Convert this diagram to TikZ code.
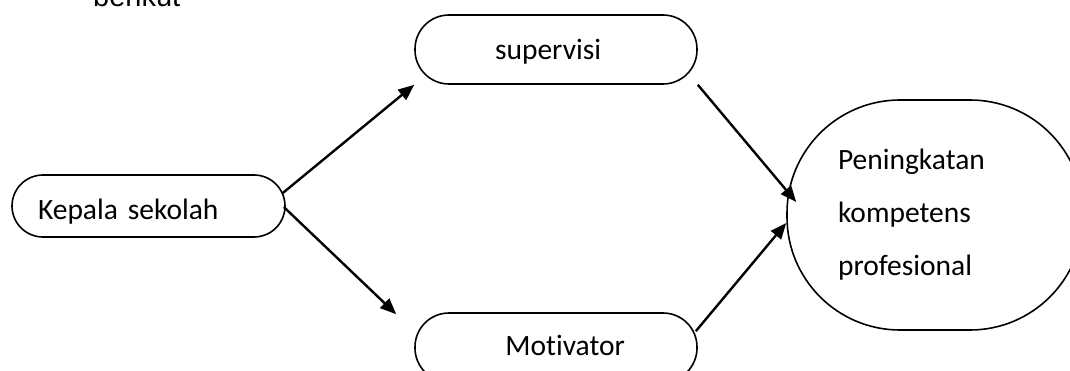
\documentclass[tikz,border=0pt]{standalone}
\usepackage{fontspec}
\setmainfont{Carlito}[Ligatures=NoCommon]
\newfontfamily\arialf{Liberation Sans}
\usetikzlibrary{arrows.meta}
\begin{document}
\begin{tikzpicture}[x=1pt,y=-1pt,
  pill/.style={draw,line width=1.6pt,rectangle,font=\fontsize{29.5}{34}\selectfont},
  oval/.style={draw,line width=1.6pt,rectangle,rounded corners=113pt,inner sep=0pt,font=\fontsize{29.5}{53}\selectfont},
  conn/.style={line width=2.4pt,-{Triangle[length=16pt,width=13pt]}}]
\useasboundingbox (0,0) rectangle (1070,371);
\node[anchor=base west,inner sep=0pt,font=\arialf\fontsize{29}{34}\selectfont] (ber) at (93,7) {berikut};
\node[pill,rounded corners=31pt,minimum height=62pt,text width=221pt,inner xsep=26pt,align=left,text height=28pt,text depth=0pt] (kep) at (148.5,206) {Kepala sekolah};
\node[pill,rounded corners=34pt,minimum height=69pt,text width=122pt,inner xsep=80pt,align=left,text height=21pt,text depth=0pt] (sup) at (556,49.5) {supervisi};
\node[pill,rounded corners=34pt,minimum height=69pt,text width=138pt,inner xsep=72pt,align=right,text height=15pt,text depth=0pt] (mot) at (556,347.5) {Motivator};
\node[oval,minimum width=296pt,minimum height=230pt,text width=194pt,align=left] (ell) at (935,215) {Peningkatan\\kompetens\\profesional};
\draw[conn] ([shift={(-3,-13)}]kep.east) -- (sup.south west);
\draw[conn] ([shift={(-2,1)}]kep.east) -- ([shift={(-18,2)}]mot.north west);
\draw[conn] (sup.south east) -- ([shift={(10,-13)}]ell.west);
\draw[conn] ([shift={(-2,19)}]mot.north east) -- ([shift={(0,8)}]ell.west);
\end{tikzpicture}
\end{document}
